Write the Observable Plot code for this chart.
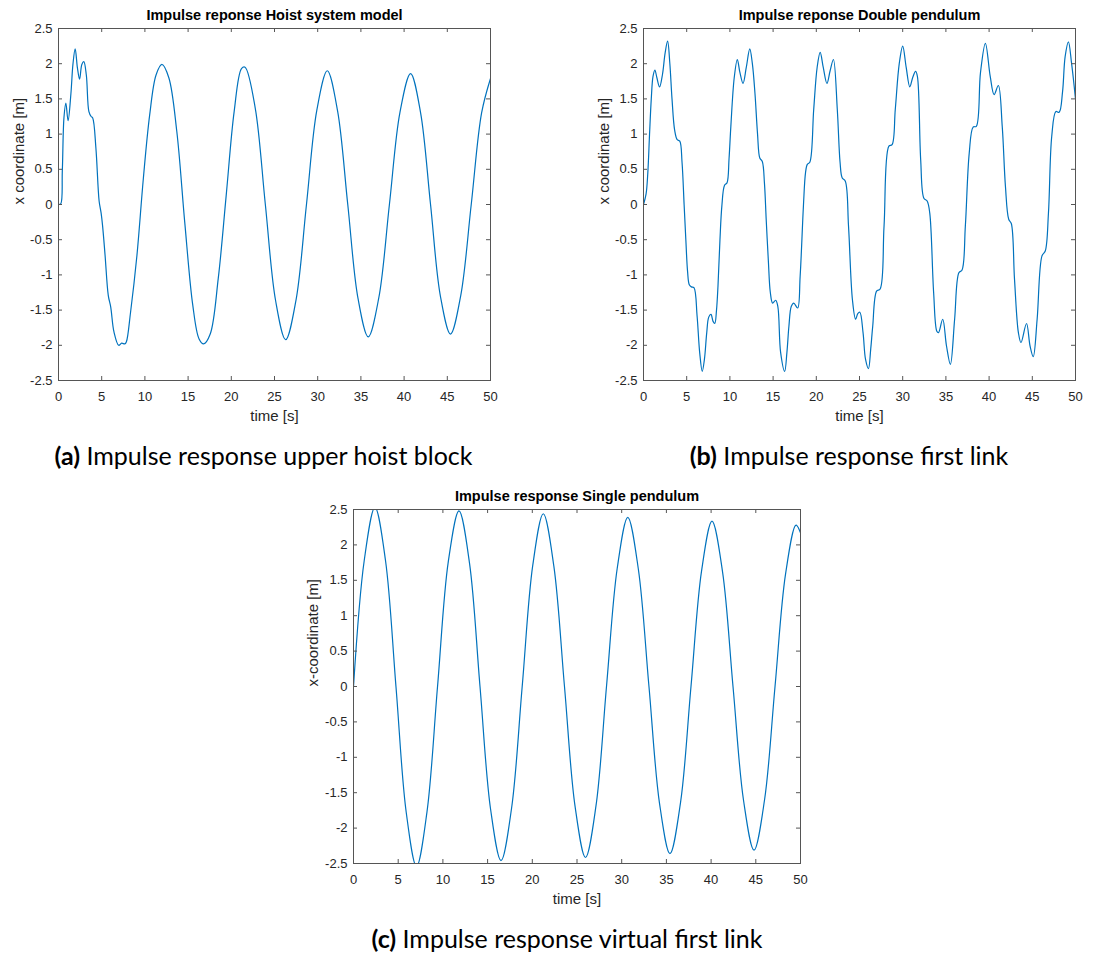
<!DOCTYPE html>
<html><head><meta charset="utf-8">
<script src="https://cdn.jsdelivr.net/npm/d3@7"></script>
<script src="https://cdn.jsdelivr.net/npm/@observablehq/plot@0.6"></script>
<style>
body{margin:0;background:#fff;}
#fig{position:relative;width:1101px;height:956px;background:#fff;overflow:hidden;}
.panel{position:absolute;}
.cap{position:absolute;font-family:Lato,"Open Sans",sans-serif;font-size:25px;line-height:25px;color:#000;white-space:nowrap;transform:translateX(-50%);}
.cap b{font-weight:700;}
</style></head><body><div id="fig"></div>
<script>
// ---- shared ticks ----
const ticksX = [0, 5, 10, 15, 20, 25, 30, 35, 40, 45, 50];
const ticksY = [-2.5, -2, -1.5, -1, -0.5, 0, 0.5, 1, 1.5, 2, 2.5];

// ---- texts ----
const titles = ["Impulse reponse Hoist system model", "Impulse reponse Double pendulum", "Impulse response Single pendulum"];
const yLabels = ["x coordinate [m]", "x coordinate [m]", "x-coordinate [m]"];
const xLabel = "time [s]";
const capTags = ["(a)", "(b)", "(c)"];
const capTexts = ["Impulse response upper hoist block", "Impulse response first link", "Impulse response virtual first link"];

// ---- (a) Hoist system model ----
const timeA = [0, 0.26, 0.44, 0.63, 0.85, 1.11, 1.44, 1.67, 1.93, 2.19, 2.44, 2.7, 2.93, 3.22, 3.52, 3.78, 3.96, 4.33, 4.7, 4.93, 5.1, 5.39, 5.76, 6.05, 6.42, 6.97, 7.31, 7.68, 7.86, 8.34, 9.08, 9.82, 10.55, 11.29, 11.97, 12.77, 13.69, 14.61, 15.54, 16.27, 16.8, 17.56, 18.49, 19.41, 20.33, 21.18, 21.59, 22.77, 23.94, 25.12, 26.29, 27.5, 28.7, 29.9, 31.11, 32.3, 33.48, 34.66, 35.85, 37.08, 38.3, 39.52, 40.75, 41.9, 43.06, 44.2, 45.37, 46.56, 47.77, 48.97, 50];
const valueA = [0, 0.01, 0.47, 1.23, 1.44, 1.19, 1.58, 1.99, 2.21, 1.94, 1.78, 1.99, 2.03, 1.84, 1.32, 1.25, 1.23, 0.80, 0.05, -0.12, -0.3, -0.72, -1.29, -1.46, -1.81, -2.0, -1.97, -1.98, -1.95, -1.53, -0.72, 0.37, 1.27, 1.84, 1.99, 1.80, 1.04, -0.25, -1.43, -1.91, -1.98, -1.84, -1.05, 0.13, 1.32, 1.93, 1.95, 1.37, 0, -1.36, -1.92, -1.35, 0, 1.34, 1.90, 1.33, 0, -1.33, -1.88, -1.32, 0, 1.31, 1.86, 1.31, 0, -1.30, -1.84, -1.29, 0, 1.30, 1.79];

// ---- (b) Double pendulum ----
const timeB = [0, 0.3, 0.5, 0.7, 0.9, 1.1, 1.32, 1.55, 1.86, 2.2, 2.5, 2.79, 3.05, 3.3, 3.6, 3.9, 4.2, 4.46, 4.7, 4.9, 5.1, 5.3, 5.54, 5.84, 6.2, 6.5, 6.8, 7.05, 7.32, 7.55, 7.81, 8.05, 8.25, 8.45, 8.62, 8.85, 9.07, 9.37, 9.67, 9.9, 10.11, 10.5, 10.86, 11.15, 11.52, 11.9, 12.3, 12.6, 12.9, 13.2, 13.46, 13.75, 14.0, 14.2, 14.45, 14.68, 14.94, 15.3, 15.55, 15.87, 16.34, 16.6, 16.83, 17.1, 17.39, 17.84, 18.13, 18.51, 18.75, 18.96, 19.25, 19.7, 20.1, 20.45, 20.8, 21.23, 21.6, 21.98, 22.43, 22.75, 22.99, 23.36, 23.73, 24.18, 24.55, 24.8, 25.04, 25.41, 25.7, 26.04, 26.3, 26.53, 26.98, 27.39, 27.84, 28.4, 28.77, 29.14, 29.6, 30.0, 30.4, 30.82, 31.15, 31.49, 31.7, 32.08, 32.45, 32.83, 33.13, 33.58, 33.95, 34.14, 34.63, 35.07, 35.52, 36.01, 36.5, 36.87, 37.25, 37.7, 38.15, 38.52, 39.0, 39.57, 40.13, 40.58, 41.07, 41.52, 41.89, 42.27, 42.57, 42.94, 43.39, 43.69, 44.33, 44.74, 45.11, 45.56, 46.12, 46.5, 46.87, 47.25, 47.73, 48.11, 48.5, 48.8, 49.18, 49.55, 50];
const valueB = [0, 0.15, 0.45, 1.0, 1.5, 1.82, 1.91, 1.8, 1.67, 1.85, 2.15, 2.32, 2.0, 1.5, 1.06, 0.92, 0.9, 0.6, 0.0, -0.5, -0.95, -1.14, -1.17, -1.18, -1.58, -2.1, -2.37, -2.2, -1.82, -1.6, -1.56, -1.66, -1.69, -1.5, -1.16, -0.5, -0.02, 0.27, 0.31, 0.65, 1.11, 1.8, 2.06, 1.88, 1.72, 1.95, 2.21, 2.0, 1.58, 1.0, 0.66, 0.61, 0.3, -0.21, -0.8, -1.25, -1.40, -1.36, -1.45, -2.1, -2.37, -2.1, -1.73, -1.45, -1.40, -1.47, -1.02, -0.02, 0.45, 0.57, 0.60, 1.35, 1.95, 2.16, 1.95, 1.72, 1.9, 2.06, 1.35, 0.6, 0.38, 0.33, -0.31, -1.35, -1.63, -1.55, -1.53, -1.82, -2.2, -2.33, -2.05, -1.73, -1.23, -1.20, -0.31, 0.83, 0.85, 1.35, 2.0, 2.25, 1.95, 1.67, 1.8, 1.89, 1.82, 0.64, 0.09, 0.05, -0.12, -1.25, -1.8, -1.82, -1.63, -2.01, -2.27, -1.63, -0.97, -0.93, -0.31, 0.73, 1.10, 1.11, 1.87, 2.29, 1.82, 1.56, 1.69, 1.11, 0.26, -0.21, -0.27, -1.06, -1.82, -1.96, -1.69, -2.01, -2.16, -1.63, -0.73, -0.66, -0.12, 0.97, 1.32, 1.31, 1.6, 2.1, 2.31, 2.0, 1.5];

// ---- (c) Single pendulum ----
const timeC = [0, 1.2, 2.4, 3.58, 4.75, 5.9, 7.05, 8.22, 9.4, 10.6, 11.8, 12.98, 14.15, 15.33, 16.5, 17.68, 18.87, 20.05, 21.23, 22.41, 23.6, 24.78, 25.95, 27.13, 28.3, 29.5, 30.68, 31.86, 33.05, 34.23, 35.4, 36.58, 37.75, 38.93, 40.1, 41.28, 42.45, 43.63, 44.8, 45.98, 47.15, 48.33, 49.5, 50];
const valueC = [0, 1.78, 2.53, 1.78, 0, -1.78, -2.54, -1.77, 0, 1.76, 2.48, 1.74, 0, -1.73, -2.46, -1.72, 0, 1.71, 2.44, 1.70, 0, -1.69, -2.415, -1.68, 0, 1.67, 2.39, 1.66, 0, -1.65, -2.36, -1.64, 0, 1.63, 2.335, 1.62, 0, -1.61, -2.31, -1.60, 0, 1.59, 2.28, 2.17];

const lineColor = "#0072BD";
const axisColor = "#555555";
const fmt = d => String(d);

function panel(cfg) {
  const {left, top, width, height, mt, mr, mb, ml, t, v, title, ylabel, ylabelDx} = cfg;
  const data = t.map((d, i) => ({t: d, v: v[i]}));
  const iw = width - ml - mr, ih = height - mt - mb;
  const p = Plot.plot({
    width, height,
    marginTop: mt, marginRight: mr, marginBottom: mb, marginLeft: ml,
    style: {fontFamily: "'Liberation Sans', Arial, sans-serif", fontSize: "13px", color: "#262626", background: "transparent", overflow: "visible"},
    x: {domain: [0, 50]},
    y: {domain: [-2.5, 2.5]},
    marks: [
      Plot.line(data, {x: "t", y: "v", stroke: lineColor, strokeWidth: 1.2, curve: "catmull-rom", clip: true}),
      Plot.ruleX(ticksX, {x: d => d, insetTop: ih - 4, stroke: axisColor}),
      Plot.ruleX(ticksX, {x: d => d, insetBottom: ih - 4, stroke: axisColor}),
      Plot.ruleY(ticksY, {y: d => d, insetRight: iw - 4, stroke: axisColor}),
      Plot.ruleY(ticksY, {y: d => d, insetLeft: iw - 4, stroke: axisColor}),
      Plot.frame({stroke: axisColor}),
      Plot.axisX({ticks: ticksX, tickSize: 0, tickPadding: 11, tickFormat: fmt, label: null, fill: "#262626"}),
      Plot.axisY({ticks: ticksY, tickSize: 0, tickPadding: 6, tickFormat: fmt, label: null, fill: "#262626"}),
      Plot.text([title], {text: d => d, frameAnchor: "top", lineAnchor: "middle", dy: -13.5, fontWeight: "bold", fontSize: 14.5, fill: "#000"}),
      Plot.text([xLabel], {text: d => d, frameAnchor: "bottom", lineAnchor: "middle", dy: 35.5, fontSize: 15, fill: "#262626"}),
      Plot.text([ylabel], {text: d => d, frameAnchor: "left", lineAnchor: "middle", dx: ylabelDx, rotate: -90, fontSize: 15, fill: "#262626"})
    ]
  });
  p.classList.add("panel");
  p.style.left = left + "px";
  p.style.top = top + "px";
  return p;
}

const fig = document.getElementById("fig");
fig.appendChild(panel({left: 0, top: 0, width: 510, height: 420, mt: 28, mr: 20, mb: 40, ml: 58, t: timeA, v: valueA, title: titles[0], ylabel: yLabels[0], ylabelDx: -39.5}));
fig.appendChild(panel({left: 585, top: 0, width: 510, height: 420, mt: 28, mr: 20, mb: 40, ml: 58, t: timeB, v: valueB, title: titles[1], ylabel: yLabels[1], ylabelDx: -39}));
fig.appendChild(panel({left: 295, top: 481, width: 525, height: 422, mt: 28, mr: 20, mb: 40, ml: 58, t: timeC, v: valueC, title: titles[2], ylabel: yLabels[2], ylabelDx: -40}));

const capPos = [[263.5, 442.8], [849, 442.8], [567, 925.8]];
capTags.forEach((tag, i) => {
  const d = document.createElement("div");
  d.className = "cap";
  d.style.left = capPos[i][0] + "px";
  d.style.top = capPos[i][1] + "px";
  const b = document.createElement("b");
  b.textContent = tag;
  d.appendChild(b);
  d.appendChild(document.createTextNode(" " + capTexts[i]));
  fig.appendChild(d);
});
</script></body></html>
